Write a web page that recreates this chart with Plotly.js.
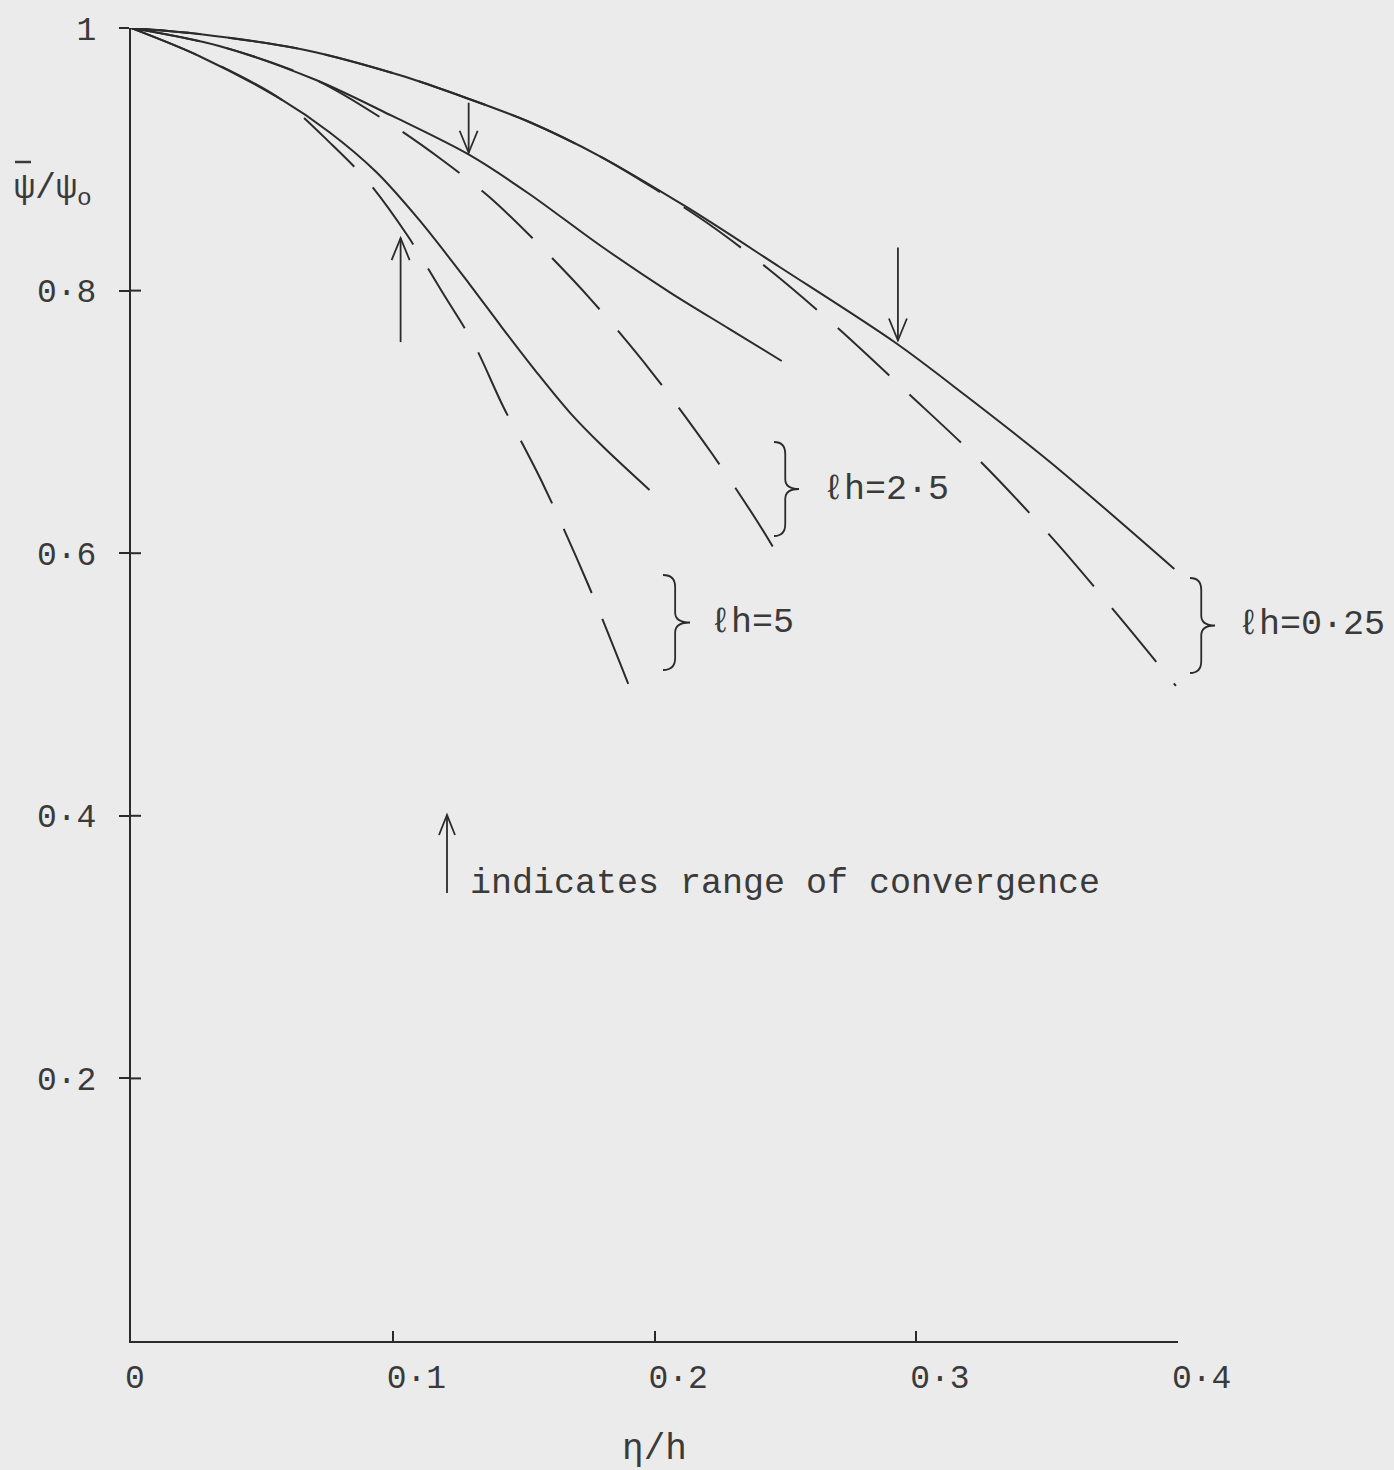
<!DOCTYPE html>
<html>
<head>
<meta charset="utf-8">
<script src="https://cdn.plot.ly/plotly-3.0.1.min.js"></script>
<style>
html,body{margin:0;padding:0;background:#ebebeb;}
#chart{width:1394px;height:1470px;}
</style>
</head>
<body>
<div id="chart"></div>
<script>
// ---------------- data ----------------
// lh = 0.25, solid
const eta025s = [0, 0.0260, 0.0665, 0.1025, 0.1281, 0.1522, 0.1790, 0.2122, 0.2478, 0.2922, 0.3186, 0.3511, 0.3986];
const psi025s = [1, 0.9954, 0.9833, 0.9642, 0.9467, 0.9284, 0.9025, 0.8637, 0.8180, 0.7601, 0.7205, 0.6695, 0.5880];
// lh = 0.25, dashed
const eta025d = [0, 0.0260, 0.0665, 0.1025, 0.1281, 0.1522, 0.1790, 0.2008, 0.2218, 0.2440, 0.2700, 0.2960, 0.3247, 0.3526, 0.3763, 0.3992];
const psi025d = [1, 0.9954, 0.9833, 0.9642, 0.9467, 0.9284, 0.9025, 0.8766, 0.8492, 0.8157, 0.7715, 0.7235, 0.6695, 0.6101, 0.5545, 0.4989];
// lh = 2.5, solid
const eta25s = [0, 0.0337, 0.0707, 0.0998, 0.1293, 0.1522, 0.1790, 0.2057, 0.2287, 0.2486];
const psi25s = [1, 0.9863, 0.9604, 0.9330, 0.9033, 0.8736, 0.8347, 0.7989, 0.7707, 0.7464];
// lh = 2.5, dashed
const eta25d = [0, 0.0337, 0.0707, 0.0998, 0.1189, 0.1369, 0.1541, 0.1759, 0.1989, 0.2218, 0.2394, 0.2505];
const psi25d = [1, 0.9863, 0.9604, 0.9261, 0.8995, 0.8713, 0.8385, 0.7928, 0.7380, 0.6763, 0.6238, 0.5872];
// lh = 5, solid
const eta5s = [0, 0.0260, 0.0577, 0.0757, 0.0937, 0.1101, 0.1293, 0.1419, 0.1549, 0.1675, 0.1801, 0.1981];
const psi5s = [1, 0.9787, 0.9452, 0.9208, 0.8903, 0.8538, 0.8050, 0.7715, 0.7380, 0.7075, 0.6816, 0.6481];
// lh = 5, dashed
const eta5d = [0, 0.0260, 0.0577, 0.0769, 0.0910, 0.1055, 0.1189, 0.1312, 0.1419, 0.1572, 0.1744, 0.1912];
const psi5d = [1, 0.9787, 0.9452, 0.9109, 0.8819, 0.8423, 0.7989, 0.7586, 0.7129, 0.6535, 0.5773, 0.4943];

// convergence limits (arrows)  order: lh=5, lh=2.5, lh=0.25
const convEta = [0.103, 0.129, 0.293];
const convPsi = [0.840, 0.905, 0.762];

// labels
const lhLabels = ['ℓh=0·25', 'ℓh=2·5', 'ℓh=5'];
const xTickVals = [0, 0.1, 0.2, 0.3, 0.4];
const xTickText = ['0', '0·1', '0·2', '0·3', '0·4'];
const yTickVals = [0.2, 0.4, 0.6, 0.8, 1];
const yTickText = ['0·2', '0·4', '0·6', '0·8', '1'];
const xTitle = 'η/h';
const yTitle = 'ψ/ψ<sub>o</sub>';
const noteText = 'indicates range of convergence';

// ---------------- layout helpers ----------------
const W = 1394, H = 1470, ML = 131, MR = 216, MT = 28, MB = 129;
const PW = W - ML - MR, PH = H - MT - MB;
const XMAX = 0.4;
const INK = '#2b2b2b';
const TXT = '#3a3a3a';
const FONT = 'Liberation Mono, DejaVu Sans Mono, monospace';
const pX = px => (px - ML) / PW;          // pixel -> paper
const pY = py => (H - MB - py) / PH;
const dX = x => x / XMAX;                 // data -> paper
const dY = y => y;

function makeArrow(tipX, tipY, dir, lenPx, headLen, headHalf) {
  // dir = 1 : arrow points up, dir = -1 : arrow points down
  const tailY = tipY - dir * lenPx / PH;
  const hy = tipY - dir * headLen / PH;
  const hx = headHalf / PW;
  return [
    {type:'line', xref:'paper', yref:'paper', x0:tipX, x1:tipX, y0:tailY, y1:tipY,
     line:{color:INK, width:1.8}},
    {type:'path', xref:'paper', yref:'paper',
     path:`M ${tipX-hx},${hy} L ${tipX},${tipY} L ${tipX+hx},${hy}`,
     line:{color:INK, width:1.8}}
  ];
}

function makeBrace(xl, top, bot, w) {
  const mid = (top + bot) / 2;
  const xm = xl + w * 0.45;
  const P = (a, b) => `${pX(a)},${pY(b)}`;
  const path = `M ${P(xl, top)} Q ${P(xm, top)} ${P(xm, top + 12)} L ${P(xm, mid - 10)} ` +
               `Q ${P(xm, mid)} ${P(xl + w, mid)} Q ${P(xm, mid)} ${P(xm, mid + 10)} ` +
               `L ${P(xm, bot - 12)} Q ${P(xm, bot)} ${P(xl, bot)}`;
  return {type:'path', xref:'paper', yref:'paper', path:path, line:{color:INK, width:1.8}};
}

// ---------------- traces ----------------
const DASH = '70px,28px';
function curve(x, y, dashed, name) {
  return {
    x: x, y: y, type: 'scatter', mode: 'lines', name: name, hoverinfo: 'skip',
    line: {color: INK, width: 2, shape: 'spline', smoothing: 0.9, dash: dashed ? DASH : 'solid'}
  };
}
const traces = [
  curve(eta025s, psi025s, false, 'lh=0.25'),
  curve(eta025d, psi025d, true,  'lh=0.25 (dashed)'),
  curve(eta25s,  psi25s,  false, 'lh=2.5'),
  curve(eta25d,  psi25d,  true,  'lh=2.5 (dashed)'),
  curve(eta5s,   psi5s,   false, 'lh=5'),
  curve(eta5d,   psi5d,   true,  'lh=5 (dashed)')
];

// ---------------- shapes ----------------
let shapes = [];
// inner half of the crossing y ticks
yTickVals.slice(0, 4).forEach(v => {
  shapes.push({type:'line', xref:'paper', yref:'paper', x0:0, x1:10/PW, y0:dY(v), y1:dY(v),
               line:{color:INK, width:2}});
});
// convergence arrows
const arrowDir = [1, -1, -1];
const arrowLen = [104, 50, 93];
convEta.forEach((e, i) => {
  shapes = shapes.concat(makeArrow(dX(e), dY(convPsi[i]), arrowDir[i], arrowLen[i], 22, 9));
});
// legend arrow
shapes = shapes.concat(makeArrow(pX(447), pY(815), 1, 78, 20, 8));
// braces
shapes.push(makeBrace(1190, 578, 673, 25));
shapes.push(makeBrace(774, 442, 536, 25));
shapes.push(makeBrace(663, 575, 670, 27));
// overbar of the mean symbol in the y label
shapes.push({type:'line', xref:'paper', yref:'paper', x0:pX(15), x1:pX(31), y0:pY(162), y1:pY(162),
             line:{color:TXT, width:2.5}});

// ---------------- annotations ----------------
const annFont = {family: FONT, size: 35, color: TXT};
const annotations = [
  {text: lhLabels[0], xref:'paper', yref:'paper', x:pX(1236), y:pY(625), xanchor:'left', yanchor:'middle', showarrow:false, font:annFont},
  {text: lhLabels[1], xref:'paper', yref:'paper', x:pX(821), y:pY(490), xanchor:'left', yanchor:'middle', showarrow:false, font:annFont},
  {text: lhLabels[2], xref:'paper', yref:'paper', x:pX(708), y:pY(623), xanchor:'left', yanchor:'middle', showarrow:false, font:annFont},
  {text: noteText, xref:'paper', yref:'paper', x:pX(468), y:pY(884), xanchor:'left', yanchor:'middle', showarrow:false, font:annFont},
  {text: yTitle, xref:'paper', yref:'paper', x:pX(12), y:pY(190), xanchor:'left', yanchor:'middle', showarrow:false,
   font:{family: FONT, size: 35, color: TXT}}
];

const layout = {
  width: W, height: H, autosize: false,
  margin: {l: ML, r: MR, t: MT, b: MB, pad: 0},
  paper_bgcolor: '#ebebeb', plot_bgcolor: '#ebebeb',
  showlegend: false,
  xaxis: {
    range: [0, XMAX], tickvals: xTickVals, ticktext: xTickText,
    ticks: 'inside', ticklen: 10, tickwidth: 2, tickcolor: INK,
    showline: true, linecolor: INK, linewidth: 2, mirror: false,
    showgrid: false, zeroline: false,
    ticklabelposition: 'outside right', ticklabelstandoff: 5, ticklabelshift: -8,
    tickfont: {family: FONT, size: 33, color: TXT},
    title: {text: xTitle, font: {family: FONT, size: 36, color: TXT}, standoff: 48},
    fixedrange: true
  },
  yaxis: {
    range: [0, 1], tickvals: yTickVals, ticktext: yTickText,
    ticks: 'outside', ticklen: 10, tickwidth: 2, tickcolor: INK,
    showline: true, linecolor: INK, linewidth: 2, mirror: false,
    showgrid: false, zeroline: false,
    ticklabelstandoff: 16,
    tickfont: {family: FONT, size: 33, color: TXT},
    fixedrange: true
  },
  shapes: shapes,
  annotations: annotations
};

Plotly.newPlot('chart', traces, layout, {displayModeBar: false, staticPlot: true});
</script>
</body>
</html>
